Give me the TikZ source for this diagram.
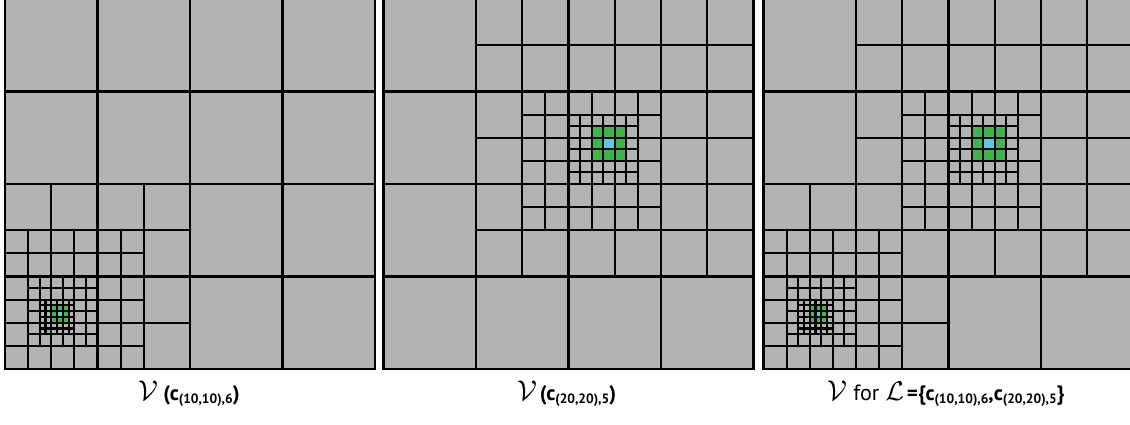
\documentclass[tikz,border=0pt]{standalone}
\usepackage{fontspec}
\setmainfont{PT Sans}
\usepackage{graphicx}
\definecolor{cellgray}{RGB}{179,179,179}
\definecolor{cellgreen}{RGB}{62,181,74}
\definecolor{cellcyan}{RGB}{95,200,230}
\tikzset{
  gl/.style={line width=2.1pt, line cap=rect, black},
  lab/.style={anchor=base, inner sep=0pt, font=\fontsize{21}{21}\selectfont},
  panel/.style={x=5.78125pt, y=5.78125pt}
}
\newcommand\qgrid[5]{%
  \pgfmathtruncatemacro\qnx{(#3-#1)/#5}%
  \pgfmathtruncatemacro\qny{(#4-#2)/#5}%
  \foreach \i in {0,...,\qnx} \draw[gl] ({#1+\i*#5},#2) -- ({#1+\i*#5},#4);
  \foreach \j in {0,...,\qny} \draw[gl] (#1,{#2+\j*#5}) -- (#3,{#2+\j*#5});
}
\newcommand\calV{\scalebox{1.38}{\fontsize{20.74}{20}\selectfont$\mathcal{V}$}}
\newcommand\calL{\scalebox{1.3}{\fontsize{20.74}{20}\selectfont$\mathcal{L}$}}
\newcommand\sbs[1]{\raisebox{-3.5pt}{\fontsize{13.5}{13}\selectfont\bfseries #1}}
\begin{document}
\begin{tikzpicture}[x=1pt,y=1pt]
\useasboundingbox (0,0) rectangle (1130,424);
\clip (0,0) rectangle (1130,424);
% panel 1
\begin{scope}[shift={(5,55)}, panel]
  \fill[cellgray] (0,0) rectangle (64,64);
  \fill[cellgreen] (8,8) rectangle (11,11);
  \fill[cellcyan] (9,9) rectangle (10,10);
  \qgrid{0}{0}{64}{64}{16}
  \qgrid{0}{0}{32}{32}{8}
  \qgrid{0}{0}{24}{24}{4}
  \qgrid{4}{4}{16}{16}{2}
  \qgrid{6}{6}{12}{12}{1}
\end{scope}
% panel 2
\begin{scope}[shift={(383.5,55)}, panel]
  \fill[cellgray] (0,0) rectangle (64,64);
  \fill[cellgreen] (36,36) rectangle (42,42);
  \fill[cellcyan] (38,38) rectangle (40,40);
  \qgrid{0}{0}{64}{64}{16}
  \qgrid{16}{16}{64}{64}{8}
  \qgrid{24}{24}{48}{48}{4}
  \qgrid{32}{32}{44}{44}{2}
\end{scope}
% panel 3
\begin{scope}[shift={(763.5,55)}, panel]
  \fill[cellgray] (0,0) rectangle (64,64);
  \fill[cellgreen] (8,8) rectangle (11,11);
  \fill[cellcyan] (9,9) rectangle (10,10);
  \fill[cellgreen] (36,36) rectangle (42,42);
  \fill[cellcyan] (38,38) rectangle (40,40);
  \qgrid{0}{0}{64}{64}{16}
  \qgrid{0}{0}{32}{32}{8}
  \qgrid{0}{0}{24}{24}{4}
  \qgrid{4}{4}{16}{16}{2}
  \qgrid{6}{6}{12}{12}{1}
  \qgrid{16}{16}{64}{64}{8}
  \qgrid{24}{24}{48}{48}{4}
  \qgrid{32}{32}{44}{44}{2}
\end{scope}
% labels
\node[lab] (lab1) at (189,24) {\calV\hspace{5pt}{\bfseries(c\sbs{(10,10),6})}};
\node[lab] (lab2) at (567,24) {\calV\hspace{2pt}{\bfseries(c\sbs{(20,20),5})}};
\node[lab] (lab3) at (946,24) {\calV\hspace{6pt}{\fontsize{22}{22}\selectfont for}\hspace{6pt}\calL\hspace{3pt}{\bfseries=\{c\sbs{(10,10),6},c\sbs{(20,20),5}\}}};
\end{tikzpicture}
\end{document}
